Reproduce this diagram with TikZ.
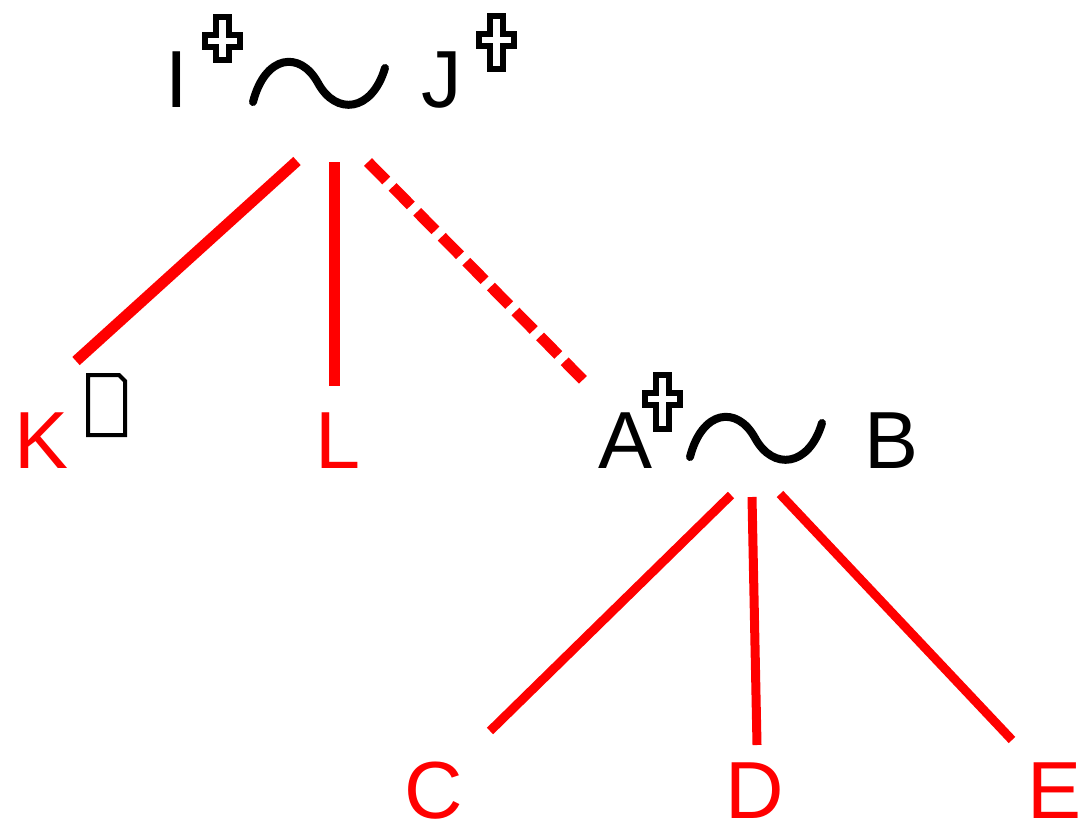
\documentclass[tikz,border=0pt]{standalone}
\usepackage{fontspec}
\setmainfont{Liberation Sans}
\definecolor{linered}{RGB}{255,0,0}
\tikzset{
  lbl/.style={inner sep=0pt, anchor=base, font=\fontsize{81}{97}\selectfont},
  redlbl/.style={lbl, text=linered},
  edge/.style={draw=linered, line width=11pt},
  thinedge/.style={draw=linered, line width=9pt},
  dashedge/.style={draw=linered, line width=11pt, dash pattern=on 26pt off 9pt},
  wave/.style={draw=black, line width=8pt, line cap=round},
  pics/dag/.style={code={
    \draw[line width=6pt, fill=white, miter limit=10]
      (-6.5,3) -- (6.5,3) -- (6.5,21) -- (17.5,21) -- (17.5,33) -- (6.5,33)
      -- (6.5,#1) -- (-6.5,#1) -- (-6.5,33) -- (-17.5,33) -- (-17.5,21)
      -- (-6.5,21) -- cycle;
  }},
  pics/tld/.style={code={
    \draw[wave] (0,0) .. controls (12,-47) and (47,-52) .. (65,-19)
      .. controls (83,14) and (119,10) .. (132,-34);
  }}
}
\begin{document}
\begin{tikzpicture}[x=1pt,y=-1pt]
\useasboundingbox (0,0) rectangle (1086,832);
% top group
\node[lbl] (I) at (177,108) {I};
\pic at (222.5,14) {dag=46};
\pic at (253,102) {tld};
\node[lbl] (J) at (442,108) {J};
\pic at (496,13) {dag=56};
% second level
\node[redlbl] (K) at (42,468) {K};
\draw[line width=4pt, line join=miter] (88,375) -- (119,375) -- (125,381) -- (125,435) -- (88,435) -- cycle;
\node[redlbl] (L) at (338,468) {L};
\node[lbl] (A) at (626,468) {A};
\pic at (662,372) {dag=57};
\pic at (690,457) {tld};
\node[lbl] (B) at (892,468) {B};
% bottom
\node[redlbl] (C) at (434,818) {C};
\node[redlbl] (D) at (755,818) {D};
\node[redlbl] (E) at (1054,818) {E};
% connector end points
\coordinate (t1) at (297,161);
\coordinate (t2) at (334,162);
\coordinate (t3) at (368,162);
\coordinate (k1) at (76,361);
\coordinate (l1) at (334,386);
\coordinate (a1) at (587,384);
\coordinate (b1) at (731,495);
\coordinate (b2) at (752,497);
\coordinate (b3) at (780,494);
\coordinate (c1) at (490,731);
\coordinate (d1) at (757,745);
\coordinate (e1) at (1012,740);
\draw[edge] (t1) -- (k1);
\draw[edge] (t2) -- (l1);
\draw[dashedge] (t3) -- (a1);
\draw[thinedge] (b1) -- (c1);
\draw[thinedge] (b2) -- (d1);
\draw[thinedge] (b3) -- (e1);
\end{tikzpicture}
\end{document}
